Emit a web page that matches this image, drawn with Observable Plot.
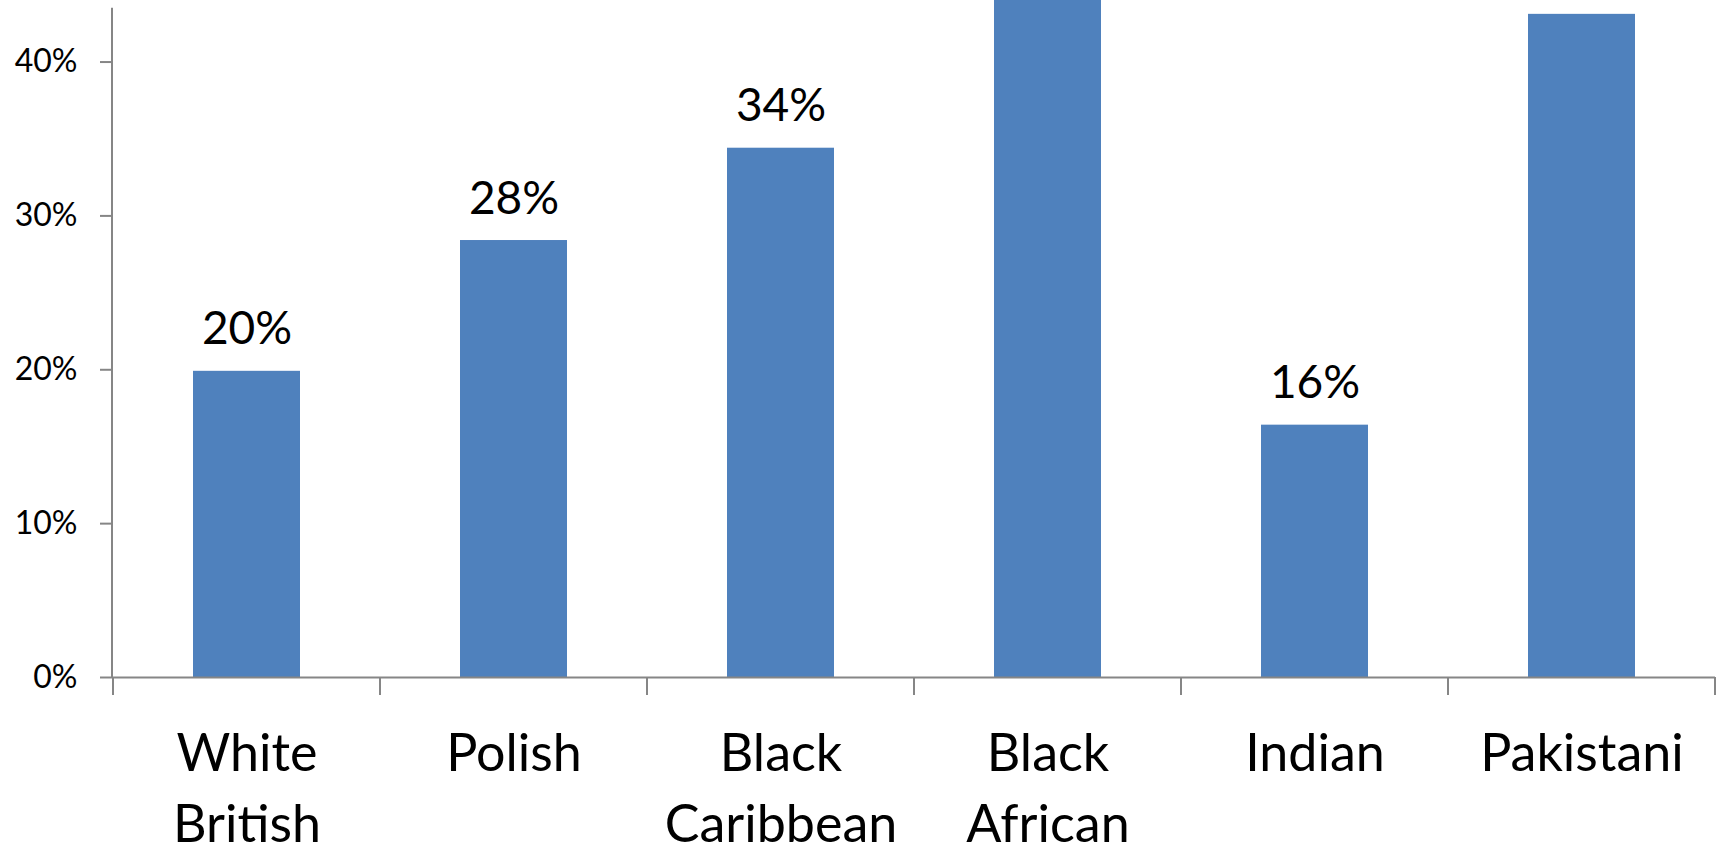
<!DOCTYPE html>
<html>
<head>
<meta charset="utf-8">
<script src="https://cdn.jsdelivr.net/npm/d3@7"></script>
<script src="https://cdn.jsdelivr.net/npm/@observablehq/plot@0.6"></script>
<style>
  html, body { margin: 0; padding: 0; background: #fff; }
  svg { display: block; }
</style>
</head>
<body>
<div id="chart"></div>
<script>
// Data
const categories = ["White British", "Polish", "Black Caribbean", "Black African", "Indian", "Pakistani"];
const tickLabels = ["White\nBritish", "Polish", "Black\nCaribbean", "Black\nAfrican", "Indian", "Pakistani"];
const values = [0.199, 0.284, 0.344, 0.46, 0.164, 0.431];
const yTicks = [0, 0.1, 0.2, 0.3, 0.4];
const yDomainMax = 0.44;
const axisTop = 0.435;
const labelMax = 0.39; // data labels above this would fall outside the picture

const data = categories.map((c, i) => ({category: c, value: values[i], label: tickLabels[i]}));
const labelOf = new Map(data.map(d => [d.category, d.label]));

const axisColor = "#868686";
const font = "Lato, 'Open Sans', sans-serif";
const paddingInner = 0.6;

// category boundary ticks drawn from the band scale
function categoryTicks(index, scales, values, dimensions) {
  const x = scales.x;
  const step = x(categories[1]) - x(categories[0]);
  let bw = (scales.scales && scales.scales.x && scales.scales.x.bandwidth);
  if (!(bw > 0)) bw = typeof x.bandwidth === "number" ? x.bandwidth : (typeof x.bandwidth === "function" ? x.bandwidth() : step * (1 - paddingInner));
  const gap = (step - bw) / 2;
  const g = d3.create("svg:g");
  const y0 = dimensions.height - dimensions.marginBottom;
  const bounds = categories.map(c => x(c) - gap);
  bounds.push(x(categories[categories.length - 1]) + bw + gap);
  for (const b of bounds) {
    g.append("line")
      .attr("x1", b).attr("x2", b)
      .attr("y1", y0).attr("y2", y0 + 18)
      .attr("stroke", axisColor).attr("stroke-width", 2);
  }
  return g.node();
}

const chart = Plot.plot({
  width: 1731,
  height: 845,
  marginLeft: 112,
  marginRight: 16,
  marginTop: 0,
  marginBottom: 168,
  style: {fontFamily: font, background: "#fff", color: "#000"},
  x: {domain: categories, paddingInner, paddingOuter: 0.3},
  y: {domain: [0, yDomainMax]},
  marks: [
    Plot.barY(data, {x: "category", y: "value", fill: "#4F81BD", clip: true}),
    Plot.text(data.filter(d => d.value <= labelMax), {
      x: "category", y: "value", text: d => Math.round(d.value * 100) + "%",
      dy: -27, lineAnchor: "bottom", fontSize: 46, fill: "#000"
    }),
    Plot.axisY({
      ticks: yTicks, tickFormat: d => Math.round(d * 100) + "%",
      tickSize: 12, tickPadding: 23, fontSize: 32, stroke: axisColor, strokeWidth: 2,
      fill: "#000", label: null
    }),
    Plot.ruleY([0], {stroke: axisColor, strokeWidth: 2}),
    // vertical axis line at the left frame edge
    (index, scales, values, dimensions) => {
      const y = scales.y;
      const x0 = dimensions.marginLeft;
      return d3.create("svg:line")
        .attr("x1", x0).attr("x2", x0)
        .attr("y1", y(axisTop)).attr("y2", y(0))
        .attr("stroke", axisColor).attr("stroke-width", 2).node();
    },
    categoryTicks,
    Plot.axisX({
      tickSize: 0, tickPadding: 44, fontSize: 52, lineHeight: 1.35,
      tickFormat: d => labelOf.get(d), fill: "#000", label: null
    })
  ]
});

document.getElementById("chart").appendChild(chart);
</script>
</body>
</html>
